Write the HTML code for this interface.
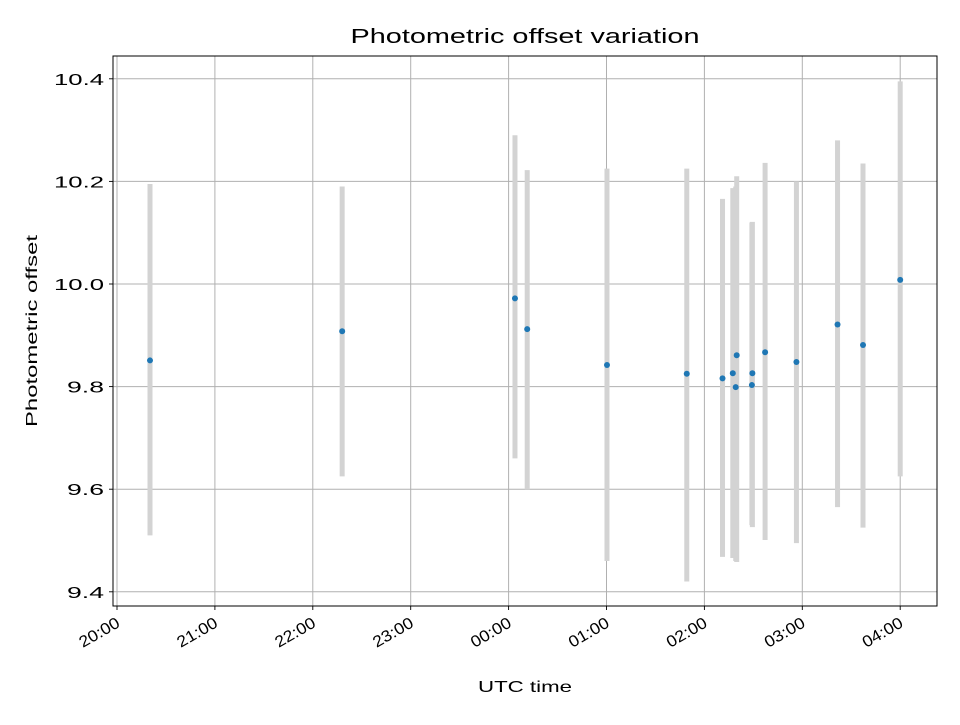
<!DOCTYPE html>
<html><head><meta charset="utf-8"><style>
body{margin:0;background:#fff}
svg text{font-family:"Liberation Sans","DejaVu Sans",sans-serif;fill:#000}
</style></head><body>
<svg id="chart" width="960" height="720" xmlns="http://www.w3.org/2000/svg"></svg>
<script>
const times=[0.337,2.30,4.065,4.19,5.005,5.82,6.185,6.29,6.33,6.32,6.49,6.485,6.62,6.94,7.36,7.62,8.0];
const values=[9.851,9.908,9.972,9.912,9.842,9.825,9.816,9.826,9.861,9.799,9.826,9.803,9.867,9.848,9.921,9.881,10.008];
const lows=[9.51,9.625,9.66,9.60,9.46,9.42,9.468,9.466,9.458,9.46,9.526,9.53,9.501,9.495,9.565,9.525,9.625];
const highs=[10.195,10.19,10.29,10.222,10.225,10.225,10.166,10.187,10.21,10.19,10.121,10.12,10.236,10.2,10.28,10.235,10.395];
const xTickLabels=["20:00","21:00","22:00","23:00","00:00","01:00","02:00","03:00","04:00"];
const yTicks=[9.4,9.6,9.8,10.0,10.2,10.4];

const svg=document.getElementById('chart');
const NS='http://www.w3.org/2000/svg';
const L=113,R=937,T=56,B=606;
const xs=h=>117+h*97.9;
const ys=v=>284-(v-10)*513;
function mk(tag,attrs,parent){const e=document.createElementNS(NS,tag);for(const k in attrs)e.setAttribute(k,attrs[k]);(parent||svg).appendChild(e);return e;}

xTickLabels.forEach((lab,i)=>{
  const x=xs(i);
  const g=mk('line',{x1:x,x2:x,y1:T,y2:B,stroke:'#b0b0b0','stroke-width':1});
  
  
  const t=mk('line',{x1:x,x2:x,y1:B,y2:B+4,stroke:'#000','stroke-width':0.9});
  
  
  const tx=mk('text',{x:x+4,y:B+20,'font-size':16,'text-anchor':'end',textLength:44,lengthAdjust:'spacingAndGlyphs',transform:`rotate(-30 ${x+4} ${B+20})`});
  tx.textContent=lab;
  
  
});
yTicks.forEach(v=>{
  const y=ys(v);
  const g=mk('line',{x1:L,x2:R,y1:y,y2:y,stroke:'#b0b0b0','stroke-width':1});
  
  
  const t=mk('line',{x1:L-4,x2:L,y1:y,y2:y,stroke:'#000','stroke-width':0.9});
  
  
  const lab=v.toFixed(1);
  const tx=mk('text',{x:L-9,y:y+6,'font-size':16,'text-anchor':'end',textLength:lab.length>3?50:37,lengthAdjust:'spacingAndGlyphs'});
  tx.textContent=lab;
  
  
});
times.forEach((h,i)=>{
  const b=mk('line',{x1:xs(h),x2:xs(h),y1:ys(highs[i]),y2:ys(lows[i]),stroke:'#d3d3d3','stroke-width':5});
  
  
});
times.forEach((h,i)=>{
  const c=mk('circle',{cx:xs(h),cy:ys(values[i]),r:3,fill:'#1f77b4'});
  
  
});
const fr=mk('rect',{x:L,y:T,width:R-L,height:B-T,fill:'none',stroke:'#000','stroke-width':1});


const ti=mk('text',{x:(L+R)/2,y:43,'font-size':20,'text-anchor':'middle',textLength:349,lengthAdjust:'spacingAndGlyphs'});
ti.textContent='Photometric offset variation';


const xl=mk('text',{x:525,y:692,'font-size':16,'text-anchor':'middle',textLength:94,lengthAdjust:'spacingAndGlyphs'});
xl.textContent='UTC time';


const yl=mk('text',{x:37,y:331,'font-size':16,'text-anchor':'middle',textLength:192,lengthAdjust:'spacingAndGlyphs',transform:'rotate(-90 37 331)'});
yl.textContent='Photometric offset';


</script>
</body></html>
